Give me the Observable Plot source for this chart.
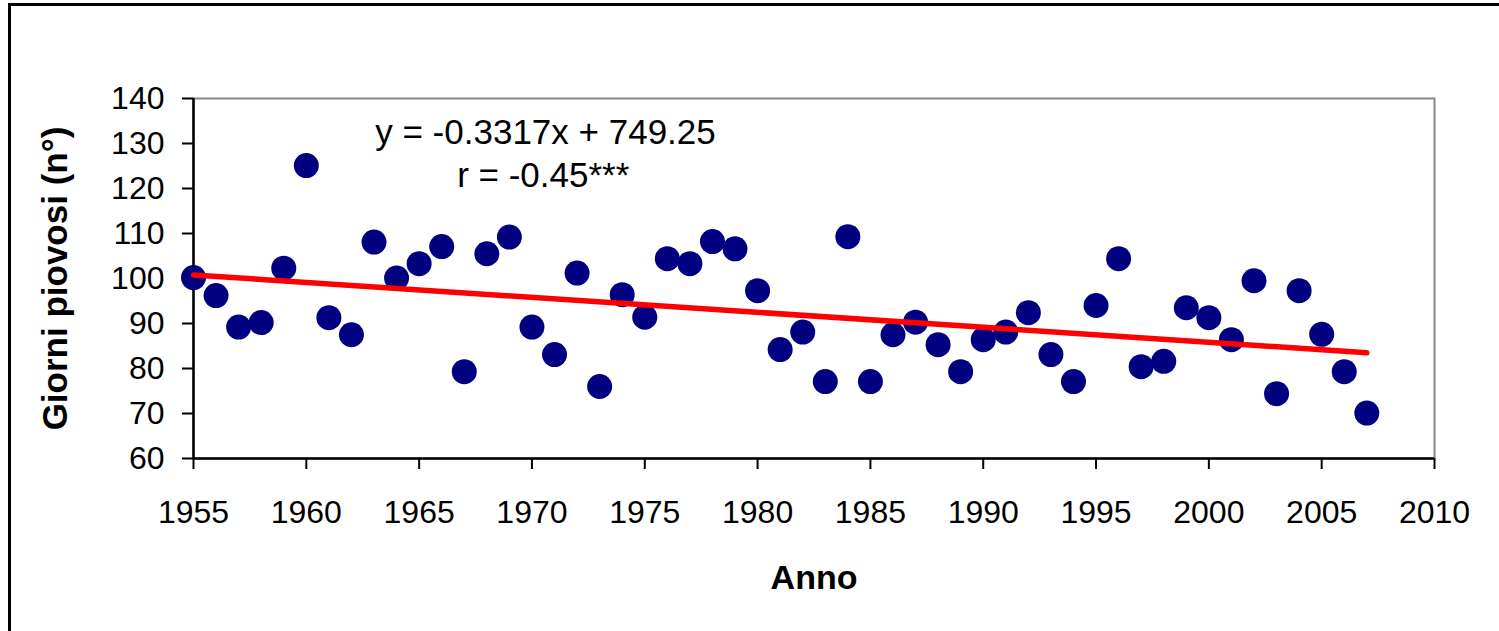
<!DOCTYPE html>
<html>
<head>
<meta charset="utf-8">
<script src="https://cdn.jsdelivr.net/npm/d3@7"></script>
<script src="https://cdn.jsdelivr.net/npm/@observablehq/plot@0.6"></script>
<style>
  html, body { margin: 0; padding: 0; background: #fff; overflow: hidden; width: 1499px; height: 631px; }
  #wrap { position: relative; width: 1499px; height: 631px; }
  #border { position: absolute; left: 8px; top: 3px; width: 1600px; height: 800px; border: 3px solid #000; box-sizing: border-box; pointer-events: none; }
  #chart { position: absolute; left: 0; top: 0; }
  svg { font-family: "Liberation Sans", Arial, sans-serif; }
</style>
</head>
<body>
<div id="wrap">
  <div id="chart"></div>
  <div id="border"></div>
</div>
<script>
const years = [1955,1956,1957,1958,1959,1960,1961,1962,1963,1964,1965,1966,1967,1968,1969,1970,1971,1972,1973,1974,1975,1976,1977,1978,1979,1980,1981,1982,1983,1984,1985,1986,1987,1988,1989,1990,1991,1992,1993,1994,1995,1996,1997,1998,1999,2000,2001,2002,2003,2004,2005,2006,2007];
const rainyDays = [100.2,96.2,89.2,90.2,102.3,125.1,91.3,87.5,108.1,100.1,103.3,107.1,79.3,105.5,109.2,89.2,83.1,101.2,76.0,96.4,91.4,104.4,103.3,108.2,106.6,97.3,84.2,88.1,77.1,109.3,77.1,87.5,90.3,85.3,79.3,86.4,88.1,92.4,83.1,77.1,94.0,104.4,80.4,81.6,93.5,91.3,86.4,99.5,74.4,97.3,87.6,79.3,70.1];
const trendYears = [1955, 2007];
const trendValues = [100.8, 83.5];
const xTicks = [1955,1960,1965,1970,1975,1980,1985,1990,1995,2000,2005,2010];
const yTicks = [60,70,80,90,100,110,120,130,140];
const equationText = "y = -0.3317x + 749.25";
const rText = "r = -0.45***";
const xTitle = "Anno";
const yTitle = "Giorni piovosi (n°)";

const points = years.map((y, i) => ({year: y, value: rainyDays[i]}));
const trend = trendYears.map((y, i) => ({year: y, value: trendValues[i]}));

const chart = Plot.plot({
  width: 1499,
  height: 631,
  marginLeft: 193,
  marginRight: 65,
  marginTop: 98,
  marginBottom: 173,
  style: {fontFamily: "'Liberation Sans', Arial, sans-serif", background: "transparent", overflow: "visible"},
  x: {domain: [1955, 2010]},
  y: {domain: [60, 140]},
  marks: [
    Plot.frame({stroke: "#888888", strokeWidth: 2}),
    Plot.axisX({ticks: xTicks, tickFormat: d => String(d), tickSize: 11, tickPadding: 31, fontSize: 32, stroke: "#000", strokeWidth: 2, label: null, color: "#000"}),
    Plot.axisY({ticks: yTicks, tickSize: 11, tickPadding: 18, fontSize: 32, stroke: "#000", strokeWidth: 2, label: null, color: "#000"}),
    Plot.ruleX([1955], {stroke: "#000", strokeWidth: 2.5}),
    Plot.ruleY([60], {stroke: "#000", strokeWidth: 2.5}),
    Plot.dot(points, {x: "year", y: "value", r: 12.5, fill: "#000080", stroke: "none"}),
    Plot.line(trend, {x: "year", y: "value", stroke: "#ff0000", strokeWidth: 5.5}),
    Plot.text([equationText], {x: 1970.6, y: 132.4, fontSize: 35, fill: "#000", textAnchor: "middle", lineAnchor: "middle"}),
    Plot.text([rText], {x: 1970.5, y: 122.9, fontSize: 35, fill: "#000", textAnchor: "middle", lineAnchor: "middle"}),
    Plot.text([xTitle], {frameAnchor: "bottom", dy: 120, fontSize: 34, fontWeight: "bold", fill: "#000", textAnchor: "middle", lineAnchor: "middle"}),
    Plot.text([yTitle], {frameAnchor: "left", dx: -138, rotate: -90, fontSize: 35, fontWeight: "bold", fill: "#000", textAnchor: "middle", lineAnchor: "middle"})
  ]
});
document.getElementById("chart").appendChild(chart);
</script>
</body>
</html>
